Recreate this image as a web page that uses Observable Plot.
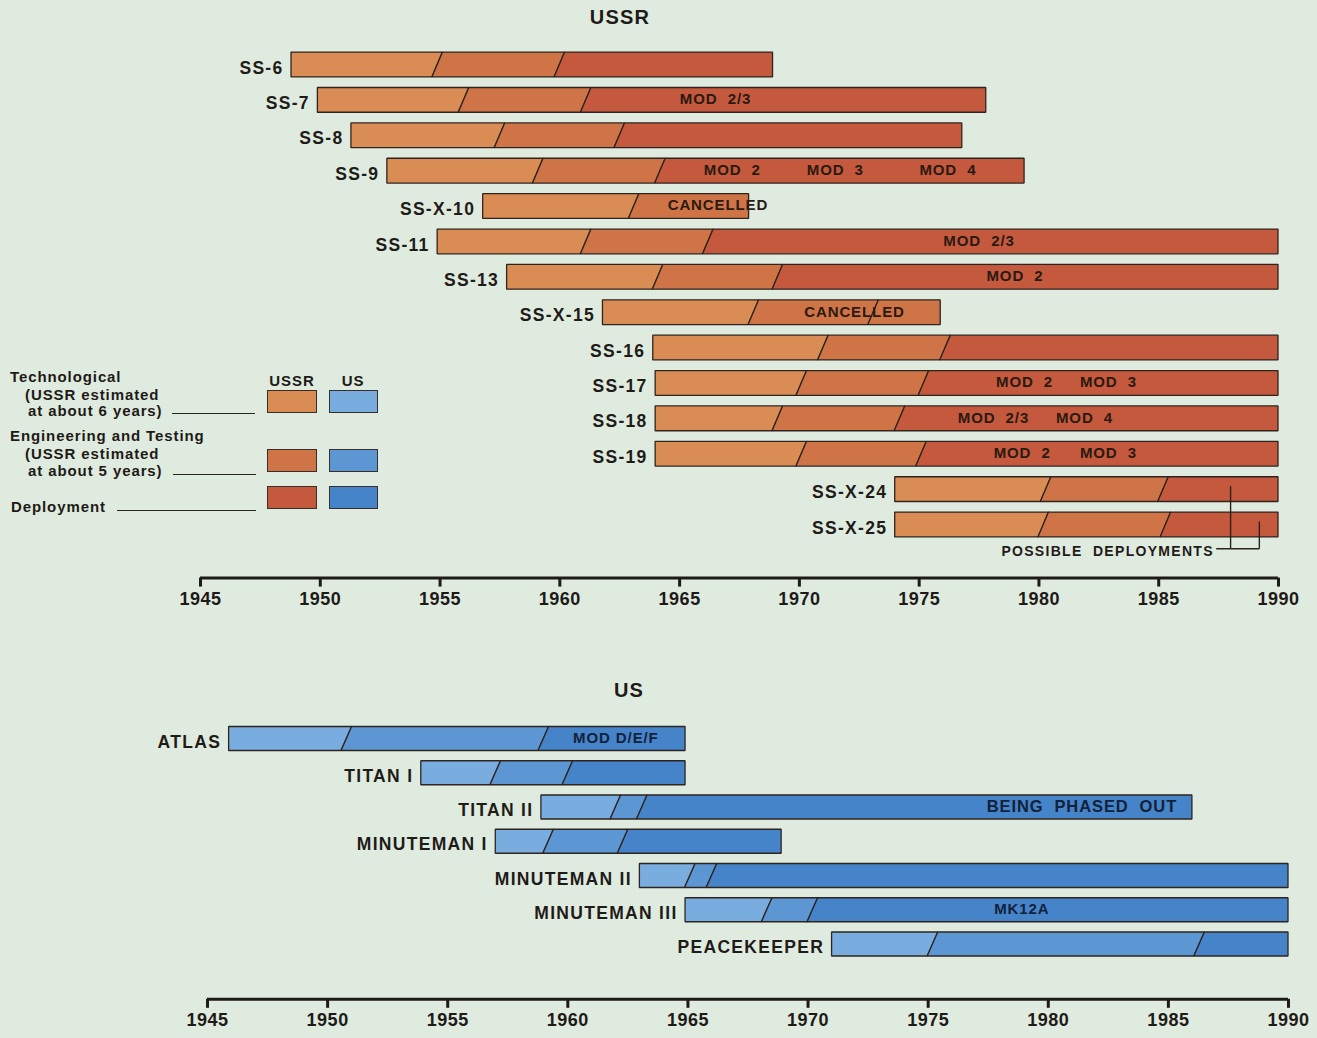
<!DOCTYPE html>
<html><head><meta charset="utf-8">
<script src="https://cdn.jsdelivr.net/npm/d3@7"></script>
<script src="https://cdn.jsdelivr.net/npm/@observablehq/plot@0.6"></script>
<style>
html,body{margin:0;padding:0;background:#e0ebdf;}
#wrap{position:relative;width:1317px;height:1038px;overflow:hidden;font-family:"Liberation Sans",Arial,sans-serif;color:#1e1a18;background:#e0ebdf;}
#wrap svg{display:block;}
.abs{position:absolute;white-space:nowrap;font-weight:bold;line-height:1;}
.leg{font-size:15px;letter-spacing:0.9px;}
.uline{position:absolute;border-top:1.5px solid #2a2420;height:0;}
.sw{position:absolute;box-sizing:border-box;border:1.5px solid #3a2e28;width:50px;height:23px;}
.title{font-size:20px;letter-spacing:1.2px;transform:translateX(-50%);}
g[aria-label="x-axis tick label"]{font-weight:bold;font-size:18px;letter-spacing:0.5px;}
</style></head>
<body>
<div id="wrap">
  <div id="ussr"></div>
  <div id="us"></div>
  <div class="abs title" style="left:620px;top:7px;">USSR</div>
  <div class="abs title" style="left:629px;top:680px;">US</div>
  <div id="legend"></div>
</div>
<script>
// ---------------- DATA ----------------
const ussrNames    = ["SS-6","SS-7","SS-8","SS-9","SS-X-10","SS-11","SS-13","SS-X-15","SS-16","SS-17","SS-18","SS-19","SS-X-24","SS-X-25"];
const ussrStart    = [1948.8,1949.9,1951.3,1952.8,1956.8,1954.9,1957.8,1961.8,1963.9,1964.0,1964.0,1964.0,1974.0,1974.0];
const ussrTechEnd  = [1954.9,1956.0,1957.5,1959.1,1963.1,1961.1,1964.1,1968.1,1971.0,1970.1,1969.1,1970.1,1980.3,1980.2];
const ussrEngEnd   = [1960.0,1961.1,1962.5,1964.2,null,1966.2,1969.1,null,1976.1,1975.2,1974.2,1975.1,1985.2,1985.3];
const ussrEnd      = [1968.9,1977.8,1976.8,1979.4,1967.9,1990,1990,1975.9,1990,1990,1990,1990,1990,1990];
const ussrExtraSlashName = ["SS-X-15"];
const ussrExtraSlashYear = [1973.1];

const ussrNoteName = ["SS-7","SS-9","SS-9","SS-9","SS-X-10","SS-11","SS-13","SS-X-15","SS-17","SS-17","SS-18","SS-18","SS-19","SS-19"];
const ussrNoteYear = [1966.5,1967.2,1971.5,1976.2,1966.6,1977.5,1979.0,1972.3,1979.4,1982.9,1978.1,1981.9,1979.3,1982.9];
const ussrNoteText = ["MOD  2/3","MOD  2","MOD  3","MOD  4","CANCELLED","MOD  2/3","MOD  2","CANCELLED","MOD  2","MOD  3","MOD  2/3","MOD  4","MOD  2","MOD  3"];

const possibleText = "POSSIBLE  DEPLOYMENTS";
const possibleLeaderName = ["SS-X-24","SS-X-25"];
const possibleLeaderYear = [1988.0,1989.2];

const usNames   = ["ATLAS","TITAN I","TITAN II","MINUTEMAN I","MINUTEMAN II","MINUTEMAN III","PEACEKEEPER"];
const usStart   = [1945.9,1953.9,1958.9,1957.0,1963.0,1964.9,1971.0];
const usTechEnd = [1950.8,1957.0,1962.0,1959.2,1965.1,1968.3,1975.2];
const usEngEnd  = [1959.0,1960.0,1963.1,1962.3,1966.0,1970.2,1986.3];
const usEnd     = [1964.9,1964.9,1986.0,1968.9,1990,1990,1990];

const usNoteName = ["ATLAS","TITAN II","MINUTEMAN III"];
const usNoteYear = [1962.0,1981.4,1978.9];
const usNoteText = ["MOD D/E/F","BEING  PHASED  OUT","MK12A"];

const tickYears = [1945,1950,1955,1960,1965,1970,1975,1980,1985,1990];
const phases = ["tech","eng","deploy"];
const ussrColors = ["#da8c55","#cf7447","#c5593d"];
const usColors   = ["#7aaddf","#5c97d4","#4584c8"];

// ---------------- BUILD ----------------
function buildAreas(names, start, techEnd, engEnd, end, extraNames, extraYears, half, slant) {
  const pts = [];
  names.forEach((name, i) => {
    const b = [start[i], techEnd[i]];
    if (engEnd[i] != null) b.push(engEnd[i]);
    extraNames.forEach((n, j) => { if (n === name) b.push(extraYears[j]); });
    b.push(end[i]);
    b.sort((a, c) => a - c);
    const last = b.length - 2;
    for (let k = 0; k <= last; k++) {
      const phase = k === 0 ? "tech" : k === 1 ? "eng" : (engEnd[i] != null ? "deploy" : "eng");
      const offL = k === 0 ? 0 : slant;
      const offR = k === last ? 0 : slant;
      const id = name + "-" + k;
      pts.push({id, phase, y: i - half, x1: b[k] + offL, x2: b[k + 1] + offR});
      pts.push({id, phase, y: i + half, x1: b[k] - offL, x2: b[k + 1] - offR});
    }
  });
  return pts;
}

function makeChart(cfg) {
  const n = cfg.names.length;
  const step = (cfg.rLast - cfg.rFirst) / (n - 1);
  const axisRow = n - 1 + cfg.axisGap;
  const axisPx = cfg.rFirst + axisRow * step;
  const marginBottom = cfg.height - axisPx;
  const areas = buildAreas(cfg.names, cfg.start, cfg.techEnd, cfg.engEnd, cfg.end, cfg.extraNames, cfg.extraYears, cfg.half, 0.22);
  const notes = cfg.noteName.map((nm, j) => ({y: cfg.names.indexOf(nm), x: cfg.noteYear[j], text: cfg.noteText[j]}));
  const labels = cfg.names.map((nm, i) => ({y: i, x: cfg.start[i], text: nm}));
  const marks = [
    Plot.areaX(areas, {x1: "x1", x2: "x2", y: "y", z: "id", fill: "phase", stroke: "#2e241f", strokeWidth: 1.3, strokeLinejoin: "miter", curve: "linear"}),
    Plot.text(labels, {x: "x", y: "y", text: "text", textAnchor: "end", dx: -8, dy: 3, fontSize: 17.5, fontWeight: "bold", fill: "#1f1b19"}),
    Plot.text(notes, {x: "x", y: "y", text: "text", fontSize: d => d.text.startsWith("BEING") ? 16.5 : 15, fontWeight: "bold", fill: cfg.noteColor, dy: -1}),
    Plot.ruleY([axisRow], {strokeWidth: 3, stroke: "#1e1a18"}),
    Plot.axisX({ticks: tickYears, tickFormat: d => String(d), tickSize: 9, tickPadding: 5, strokeWidth: 3, fontSize: 18, fontWeight: "bold"})
  ];
  if (cfg.extraMarks) marks.push(...cfg.extraMarks(cfg.names));
  const plot = Plot.plot({
    width: 1317,
    height: cfg.height,
    marginLeft: cfg.marginLeft,
    marginRight: cfg.marginRight,
    marginTop: 0,
    marginBottom,
    x: {domain: [1945, 1990]},
    y: {domain: [0, n - 1], range: [cfg.rFirst, cfg.rLast], axis: null},
    color: {domain: phases, range: cfg.colors},
    style: {background: "transparent", overflow: "visible", fontFamily: "'Liberation Sans', Arial, sans-serif", color: "#1e1a18"},
    marks
  });
  const groups = d3.select(plot).selectAll('g[aria-label="text"]').nodes();
  if (groups[0]) d3.select(groups[0]).selectAll("text").style("letter-spacing", "1.3px");
  if (groups[1]) d3.select(groups[1]).selectAll("text").style("letter-spacing", "0.9px").style("white-space", "pre");
  if (groups[2]) d3.select(groups[2]).selectAll("text").style("letter-spacing", "1.3px").style("white-space", "pre");
  return plot;
}

const ussrPlot = makeChart({
  names: ussrNames, start: ussrStart, techEnd: ussrTechEnd, engEnd: ussrEngEnd, end: ussrEnd,
  extraNames: ussrExtraSlashName, extraYears: ussrExtraSlashYear,
  noteName: ussrNoteName, noteYear: ussrNoteYear, noteText: ussrNoteText, noteColor: "#2a1a12",
  colors: ussrColors, height: 620, rFirst: 64.5, rLast: 524.5, axisGap: 1.5, half: 0.35,
  marginLeft: 200, marginRight: 39,
  extraMarks: (names) => {
    const hRow = names.length - 1 + 0.67;
    const leaders = possibleLeaderName.map((nm, j) => ({x: possibleLeaderYear[j], y1: names.indexOf(nm) - 0.1, y2: hRow}));
    return [
      Plot.link(leaders, {x1: "x", x2: "x", y1: "y1", y2: "y2", stroke: "#2a2420", strokeWidth: 1.4}),
      Plot.link([{x1: 1987.4, x2: d3.max(possibleLeaderYear), y: hRow}], {x1: "x1", x2: "x2", y1: "y", y2: "y", stroke: "#2a2420", strokeWidth: 1.4}),
      Plot.text([possibleText], {x: 1987.3, y: hRow, text: d => d, textAnchor: "end", dy: 3, fontSize: 14, fontWeight: "bold", fill: "#1f1b19"})
    ];
  }
});
document.getElementById("ussr").appendChild(ussrPlot);

const usPlot = makeChart({
  names: usNames, start: usStart, techEnd: usTechEnd, engEnd: usEngEnd, end: usEnd,
  extraNames: [], extraYears: [],
  noteName: usNoteName, noteYear: usNoteYear, noteText: usNoteText, noteColor: "#13213a",
  colors: usColors, height: 418, rFirst: 118.5, rLast: 324, axisGap: 1.6, half: 0.35,
  marginLeft: 207, marginRight: 29
});
document.getElementById("us").appendChild(usPlot);

// ---------------- LEGEND ----------------
const legendLines = [
  ["Technological", 10, 369],
  ["(USSR estimated", 25, 387],
  ["at about 6 years)", 28, 403],
  ["Engineering and Testing", 10, 428],
  ["(USSR estimated", 25, 446],
  ["at about 5 years)", 28, 463],
  ["Deployment", 11, 499]
];
const legendUnderlines = [[172, 413, 83], [173, 474, 83], [117, 510, 139]];
const legendSwatchTops = [390, 449, 486];
const leg = document.getElementById("legend");
let html = "";
legendLines.forEach(([t, x, y]) => { html += `<div class="abs leg" style="left:${x}px;top:${y}px;">${t}</div>`; });
legendUnderlines.forEach(([x, y, w]) => { html += `<div class="uline" style="left:${x}px;top:${y}px;width:${w}px;"></div>`; });
html += `<div class="abs leg" style="left:292px;top:373px;transform:translateX(-50%);">USSR</div>`;
html += `<div class="abs leg" style="left:353px;top:373px;transform:translateX(-50%);">US</div>`;
legendSwatchTops.forEach((y, k) => {
  html += `<div class="sw" style="left:267px;top:${y}px;background:${ussrColors[k]};"></div>`;
  html += `<div class="sw" style="left:329px;top:${y}px;width:49px;background:${usColors[k]};"></div>`;
});
leg.innerHTML = html;
</script>
</body></html>
